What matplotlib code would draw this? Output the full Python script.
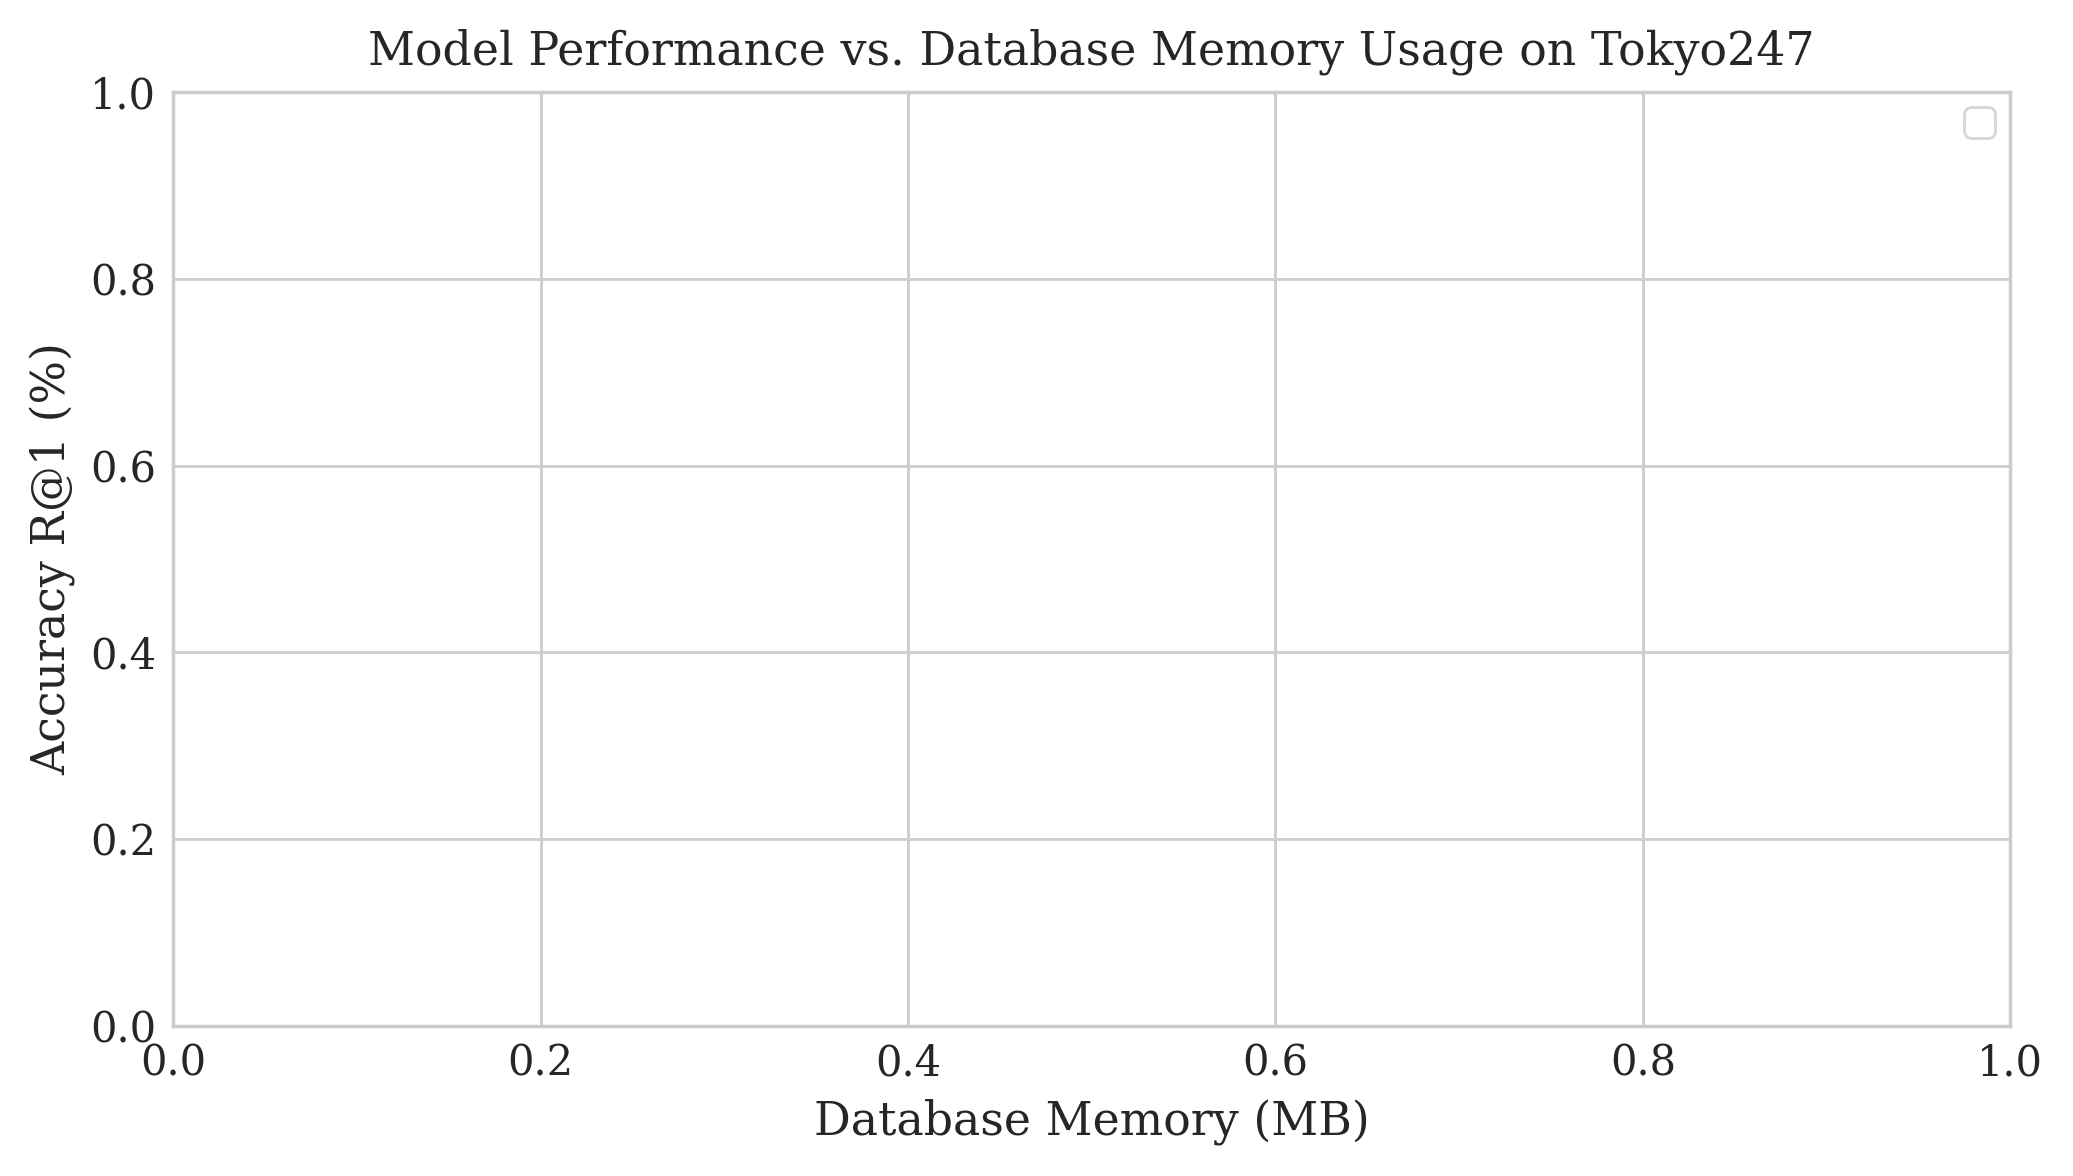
import matplotlib
matplotlib.use("Agg")
import matplotlib.pyplot as plt
import seaborn as sns

# No data is visible in the reference chart: the axes are empty.
memory_mb = []
recall_at_1 = []
model_names = []

sns.set_theme(style="whitegrid")
plt.rcParams['font.family'] = ['DejaVu Serif']

fig = plt.figure(figsize=(2073 / 200, 1176 / 200), dpi=200)
ax = fig.add_axes([0.0835, 0.1276, 0.8862, 0.7942])

for name, x, y in zip(model_names, memory_mb, recall_at_1):
    ax.scatter(x, y, label=name)

ax.set_xlim(0, 1)
ax.set_ylim(0, 1)
ax.set_title("Model Performance vs. Database Memory Usage on Tokyo247", fontsize=16.5, pad=10)
ax.set_xlabel("Database Memory (MB)", fontsize=16.5, labelpad=5)
ax.set_ylabel("Accuracy R@1 (%)", fontsize=16.5, labelpad=5)
ax.tick_params(labelsize=15, length=0, pad=6)
ax.legend(loc="upper right", fontsize=14, borderaxespad=0.38)

fig.savefig("out.png", dpi=200)
